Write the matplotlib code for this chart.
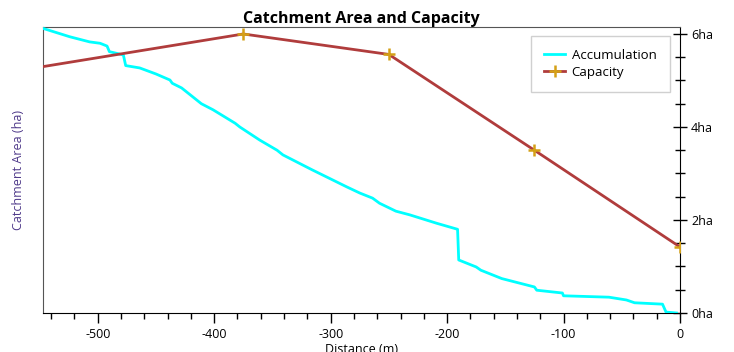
import numpy as np
import matplotlib
matplotlib.use("Agg")
from matplotlib import pyplot as plt
from matplotlib.ticker import MultipleLocator, FuncFormatter

plt.rcParams["font.family"] = ["Open Sans", "DejaVu Sans"]
plt.rcParams["axes.unicode_minus"] = False

# ------------------------------------------------------------------------------
#  Data
# ------------------------------------------------------------------------------

acc_x = [-547, -524, -507, -498, -492, -490, -478, -476, -464, -450, -438, -436,
         -428, -411, -401, -382, -378, -361, -346, -341, -316, -286, -275, -264,
         -258, -244, -232, -209, -191, -190, -175, -171, -153, -125, -123, -101,
         -100, -61, -46, -39, -15, -12, -3]
acc_y = [6.12, 5.94, 5.83, 5.80, 5.74, 5.62, 5.55, 5.32, 5.27, 5.14, 5.01, 4.94,
         4.84, 4.50, 4.37, 4.08, 4.00, 3.72, 3.50, 3.40, 3.08, 2.71, 2.58, 2.47,
         2.36, 2.19, 2.11, 1.93, 1.80, 1.14, 0.99, 0.92, 0.74, 0.56, 0.49, 0.43,
         0.37, 0.34, 0.28, 0.22, 0.19, 0.02, 0.0]

cap_x = [-625, -375, -250, -125, 0]
cap_y = [4.98, 6.0, 5.56, 3.5, 1.42]

x_ticks = [-500, -400, -300, -200, -100, 0]
y_ticks = [0, 2, 4, 6]

# ------------------------------------------------------------------------------
#  Plot
# ------------------------------------------------------------------------------

fig = plt.figure(figsize=(7.34, 3.52), dpi=100)
ax = fig.add_axes([0.0586, 0.1108, 0.8678, 0.8125])

ax.plot(acc_x, acc_y, color="#00FFFF", lw=2, label="Accumulation", zorder=3)
ax.plot(cap_x, cap_y, color="#B03C3C", lw=2, marker="+", markersize=8,
        markeredgewidth=1.8, markeredgecolor="#D4A017", label="Capacity",
        zorder=4)

ax.set_xlim(-547, 0)
ax.set_ylim(0, 6.15)

ax.set_xticks(x_ticks)
ax.xaxis.set_minor_locator(MultipleLocator(20))
ax.yaxis.tick_right()
ax.yaxis.set_label_position("left")
ax.set_yticks(y_ticks)
ax.yaxis.set_minor_locator(MultipleLocator(0.5))
ax.yaxis.set_major_formatter(FuncFormatter(lambda v, p: f"{v:g}ha"))

ax.tick_params(axis="x", which="major", direction="out", length=7, width=1,
               labelsize=9, pad=4)
ax.tick_params(axis="x", which="minor", direction="out", length=4, width=1)
ax.tick_params(axis="y", which="major", direction="inout", length=10, width=1,
               labelsize=9, pad=3)
ax.tick_params(axis="y", which="minor", direction="inout", length=7, width=1)

for side in ["top", "left"]:
    ax.spines[side].set_color("#555555")
ax.spines["right"].set_color("black")
ax.spines["bottom"].set_color("black")

ax.set_title("Catchment Area and Capacity", fontsize=11.5, fontweight="bold",
             pad=3)
ax.set_ylabel("Catchment Area (ha)", color="#4F3A8A", fontsize=9,
              labelpad=13)
ax.set_xlabel("Distance (m)", fontsize=9, labelpad=1)

leg = ax.legend(loc="upper right", bbox_to_anchor=(0.984, 0.969),
                borderaxespad=0, fontsize=9.5, fancybox=False, framealpha=1,
                handlelength=1.6, borderpad=1.0, labelspacing=0.3,
                handletextpad=0.5)
leg.get_frame().set_edgecolor("#D0D0D0")

fig.savefig("out.png", dpi=100)
